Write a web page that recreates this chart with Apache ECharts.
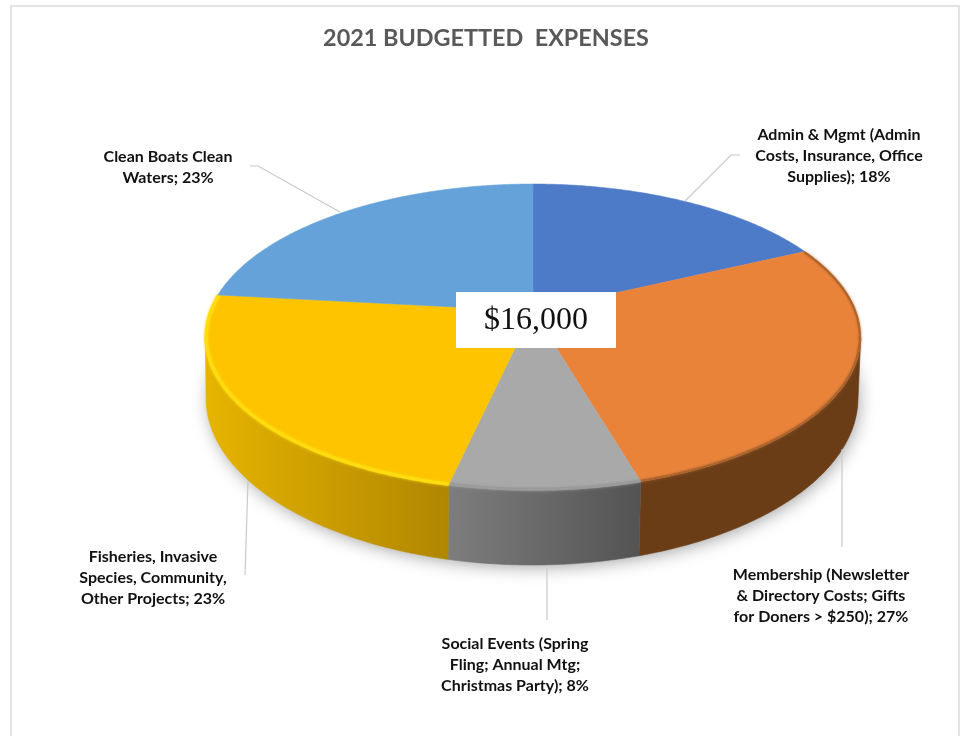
<!DOCTYPE html>
<html>
<head>
<meta charset="utf-8">
<style>html,body{margin:0;padding:0;background:#fff}#c{width:961px;height:736px}</style>
<script src="https://cdn.jsdelivr.net/npm/echarts@6/dist/echarts.min.js"></script>
</head>
<body>
<div id="c"></div>
<script>
// ---- data ----
const chartTitle = '2021 BUDGETTED  EXPENSES';
const centerNote = '$16,000';
const categories = [
  'Admin & Mgmt (Admin\nCosts, Insurance, Office\nSupplies); 18%',
  'Membership (Newsletter\n& Directory Costs; Gifts\nfor Doners > $250); 27%',
  'Social Events (Spring\nFling; Annual Mtg;\nChristmas Party); 8%',
  'Fisheries, Invasive\nSpecies, Community,\nOther Projects; 23%',
  'Clean Boats Clean\nWaters; 23%'
];
const budgetValues = [2870, 4410, 1280, 3720, 3720];

// ---- styling and layout (separate from data) ----
const topColors = ['#4e7bc8', '#ea833a', '#a9a9a9', '#fec400', '#64a2d9'];
const wallColors = [null, ['#6a3d17', '#6a3d17'], ['#7d7d7d', '#535353'], ['#e6b400', '#b08600'], null];
const rimColors = [null, '#a8632c', '#9a9a9a', '#ffdd10', null];
const rimWidths = [0, 2, 3, 3.5, 0];
const labelCenters = [[839, 155.5], [821, 595.5], [515, 664.5], [153, 577.5], [168, 167]];
const leaders = [
  [[685, 201], [731, 155], [740, 155]],
  [[842, 449], [842, 547]],
  [[547, 568], [547, 620]],
  [[248, 481], [245, 575]],
  [[340, 212], [258, 166], [250, 166]]
];
// perspective model of the disc top face
const P = {x: 533, y: 311, A: 323, B: 148.6, k: 0.17, midY: 337, rx: 328};
// lower outline of the wall
const L = {x: 532, y: 398, rx: 326, ry: 167};

const total = budgetValues.reduce((a, b) => a + b, 0);
function project(deg) {
  const t = deg * Math.PI / 180, u = Math.sin(t), v = -Math.cos(t), w = 1 - P.k * v;
  return [P.x + P.A * u / w, P.y + P.B * v / w];
}
function lowerPoint(x) {
  const d = Math.max(-1, Math.min(1, (x - P.x) / P.rx));
  return [L.x + d * L.rx, L.y + L.ry * Math.sqrt(1 - d * d)];
}
function sliceAngles(i) {
  let before = 0;
  for (let k = 0; k < i; k++) before += budgetValues[k];
  return [before / total * 360, (before + budgetValues[i]) / total * 360];
}
function arcPoints(a0, a1) {
  const pts = [], n = Math.max(2, Math.ceil((a1 - a0) * 2));
  for (let j = 0; j <= n; j++) pts.push(project(a0 + (a1 - a0) * j / n));
  return pts;
}

function renderShadow(params, api) {
  const pts = [];
  for (let a = 0; a <= 360; a += 2) {
    const t = a * Math.PI / 180;
    pts.push([L.x + (L.rx - 2) * Math.sin(t), L.y - 4 - (L.ry - 2) * Math.cos(t)]);
  }
  return {
    type: 'polygon', silent: true,
    shape: {points: pts},
    style: {fill: '#fff', shadowColor: 'rgba(0,0,0,0.40)', shadowBlur: 18, shadowOffsetX: 2, shadowOffsetY: 7}
  };
}

function renderSlice(params, api) {
  const i = params.dataIndex;
  const [a0, a1] = sliceAngles(i);
  const arc = arcPoints(a0, a1);
  const children = [];
  const front = arc.filter(p => p[1] >= P.midY);
  if (wallColors[i] && front.length > 1) {
    const bottom = front.map(p => lowerPoint(p[0])).reverse();
    const xs = front.map(p => p[0]);
    const minX = Math.min(...xs), maxX = Math.max(...xs);
    const grad = () => new echarts.graphic.LinearGradient(minX, 0, maxX, 0, [
      {offset: 0, color: wallColors[i][0]},
      {offset: 1, color: wallColors[i][1]}
    ], true);
    children.push({
      type: 'polygon',
      shape: {points: front.concat(bottom)},
      style: {fill: grad(), stroke: grad(), lineWidth: 0.6}
    });
  }
  children.push({
    type: 'polygon',
    shape: {points: [[P.x, P.y]].concat(arc)},
    style: {fill: topColors[i], stroke: topColors[i], lineWidth: 0.5}
  });
  if (rimColors[i]) {
    const rim = (i === 2 ? front : arc).map(p => [p[0] + (P.x - p[0]) * 0.003, p[1] + (P.midY - p[1]) * 0.005]);
    children.push({
      type: 'polyline',
      shape: {points: rim},
      style: {stroke: rimColors[i], lineWidth: rimWidths[i], fill: null, opacity: 0.9,
              shadowColor: rimColors[i], shadowBlur: 3}
    });
  }
  children.push({
    type: 'polyline',
    shape: {points: leaders[i]},
    style: {stroke: '#c9c9c9', lineWidth: 1.2, fill: null}
  });
  children.push({
    type: 'text',
    style: {
      x: labelCenters[i][0], y: labelCenters[i][1],
      text: categories[i],
      fill: '#111',
      font: 'bold 16px Lato',
      lineHeight: 21,
      align: 'center', verticalAlign: 'middle'
    }
  });
  return {type: 'group', children};
}

const chart = echarts.init(document.getElementById('c'), null, {renderer: 'canvas'});
chart.setOption({
  animation: false,
  backgroundColor: '#fff',
  title: {
    text: chartTitle, left: 481, top: 22, textAlign: 'center',
    textStyle: {fontFamily: 'Lato', fontWeight: 'bold', fontSize: 23.4, color: '#595959'}
  },
  tooltip: {show: false},
  graphic: [
    {type: 'rect', z: -10, silent: true, shape: {x: 11, y: 6, width: 948, height: 800},
     style: {fill: '#fff', stroke: '#dcdcdc', lineWidth: 1.5}},
    {type: 'rect', z: 100, silent: true, shape: {x: 456, y: 292, width: 160, height: 56}, style: {fill: '#fff'}},
    {type: 'text', z: 101, silent: true,
     style: {x: 536, y: 321, text: centerNote, align: 'center', verticalAlign: 'middle',
             font: '32px "Liberation Serif"', fill: '#111'}}
  ],
  series: [
    {type: 'custom', coordinateSystem: 'none', z: 1, silent: true, renderItem: renderShadow, data: [[total]]},
    {type: 'custom', coordinateSystem: 'none', z: 2, silent: true, renderItem: renderSlice,
     data: budgetValues.map(v => [v])}
  ]
});
</script>
</body>
</html>
